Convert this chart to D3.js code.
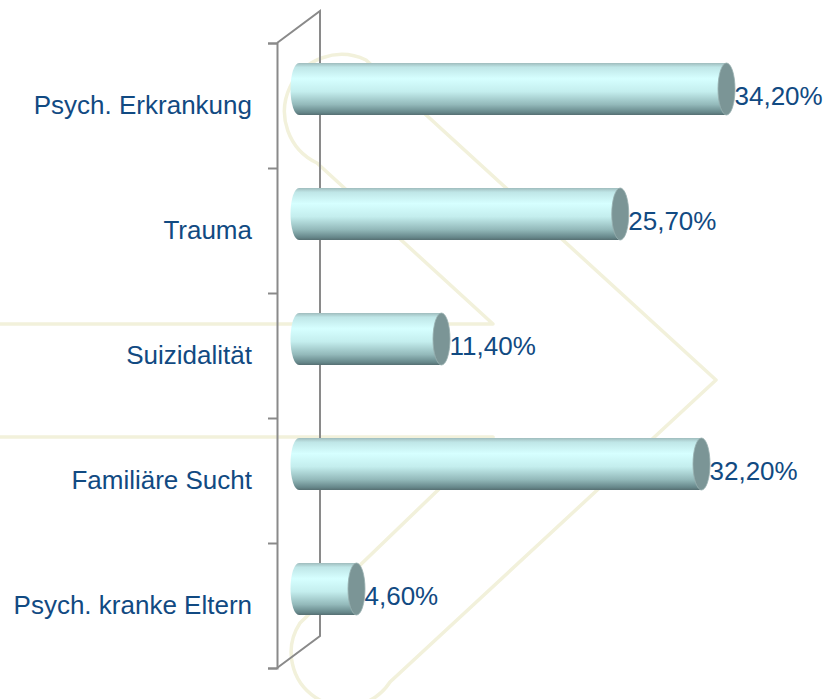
<!DOCTYPE html>
<html>
<head>
<meta charset="utf-8">
<script src="https://cdn.jsdelivr.net/npm/d3@7"></script>
<style>
  body { margin: 0; background: #fff; }
  svg { display: block; }
  text { font-family: "Liberation Sans", Arial, sans-serif; }
</style>
</head>
<body>
<div id="viz"></div>
<script>
(function chart() {
  const width = 827;
  const height = 699;

  const categories = ['Psych. Erkrankung', 'Trauma', 'Suizidalität', 'Familiäre Sucht', 'Psych. kranke Eltern'];
  const values = [34.2, 25.7, 11.4, 32.2, 4.6];
  const valueLabels = ['34,20%', '25,70%', '11,40%', '32,20%', '4,60%'];

  const textColor = '#114a82';
  const axisColor = '#8a8a8a';
  const capColor = '#7b9596';
  const markColor = '#f2f1db';

  const data = categories.map((c, i) => ({ name: c, value: values[i], label: valueLabels[i] }));

  // plot frame: front axis at x=277, back wall 43px right and 32px up
  const frontX = 277;
  const depthX = 43;
  const depthY = 32;

  const x = d3.scaleLinear()
    .domain([0, 40])
    .range([299, 799]);

  const y = d3.scaleBand()
    .domain(categories)
    .range([43, 668]);

  const svg = d3.select('#viz').append('svg')
    .attr('width', width)
    .attr('height', height);

  const defs = svg.append('defs');
  const grad = defs.append('linearGradient')
    .attr('id', 'cyl')
    .attr('x1', 0).attr('y1', 0)
    .attr('x2', 0).attr('y2', 1);
  [
    [0, '#9fbcbd'],
    [0.08, '#bfe6e7'],
    [0.3, '#d6ffff'],
    [0.55, '#c4eeee'],
    [0.8, '#93b9ba'],
    [0.95, '#66878a'],
    [1, '#566f72'],
  ].forEach(s => grad.append('stop').attr('offset', s[0]).attr('stop-color', s[1]));

  // faint watermark behind the chart
  const mark = svg.append('g')
    .attr('fill', 'none')
    .attr('stroke', markColor)
    .attr('stroke-width', 3.5)
    .attr('stroke-linejoin', 'round');

  mark.append('path')
    .attr('d', 'M0,324 L493,324 L317,163 A54,54 0 0 1 366,60 L716,380 L390,682 A53,53 0 0 1 300,623 L493,437 L0,437');

  // 3D axis frame
  const frame = svg.append('g')
    .attr('stroke', axisColor)
    .attr('stroke-width', 2)
    .attr('fill', 'none');

  frame.append('path')
    .attr('d', `M${frontX},${y.range()[0]} L${frontX + depthX},${y.range()[0] - depthY} L${frontX + depthX},${y.range()[1] - depthY} L${frontX},${y.range()[1]}`);

  const yTicks = d3.scaleLinear()
    .domain([0, categories.length])
    .range(y.range());

  const axis = svg.append('g')
    .attr('transform', `translate(${frontX},0)`)
    .call(d3.axisLeft(yTicks)
      .tickValues(d3.range(categories.length + 1))
      .tickSize(9)
      .tickFormat(''));
  axis.select('.domain').attr('stroke', axisColor).attr('stroke-width', 2);
  axis.selectAll('.tick line').attr('stroke', axisColor).attr('stroke-width', 2);

  // cylinders
  const barH = 52;
  const rx = 8.5;
  const bars = svg.append('g').selectAll('g.bar')
    .data(data)
    .enter()
    .append('g')
    .attr('class', 'bar')
    .attr('transform', d => `translate(0,${y(d.name) + 20})`);

  bars.append('ellipse')
    .attr('cx', x(0))
    .attr('cy', barH / 2)
    .attr('rx', rx)
    .attr('ry', barH / 2)
    .attr('fill', 'url(#cyl)');

  bars.append('rect')
    .attr('x', x(0))
    .attr('y', 0)
    .attr('width', d => x(d.value) - x(0))
    .attr('height', barH)
    .attr('fill', 'url(#cyl)');

  bars.append('ellipse')
    .attr('cx', d => x(d.value))
    .attr('cy', barH / 2)
    .attr('rx', rx)
    .attr('ry', barH / 2)
    .attr('fill', capColor)
    .attr('stroke', '#98b0b0')
    .attr('stroke-width', 0.8);

  bars.append('text')
    .text(d => d.label)
    .attr('x', d => x(d.value) + 8)
    .attr('y', barH / 2 + 15.5)
    .attr('fill', textColor)
    .style('font-size', '26px');

  // category labels
  svg.append('g').selectAll('text')
    .data(data)
    .enter()
    .append('text')
    .text(d => d.name)
    .attr('x', 252)
    .attr('y', d => y(d.name) + y.bandwidth() / 2 + 8)
    .attr('text-anchor', 'end')
    .attr('fill', textColor)
    .style('font-size', '26px');
}());
</script>
</body>
</html>
